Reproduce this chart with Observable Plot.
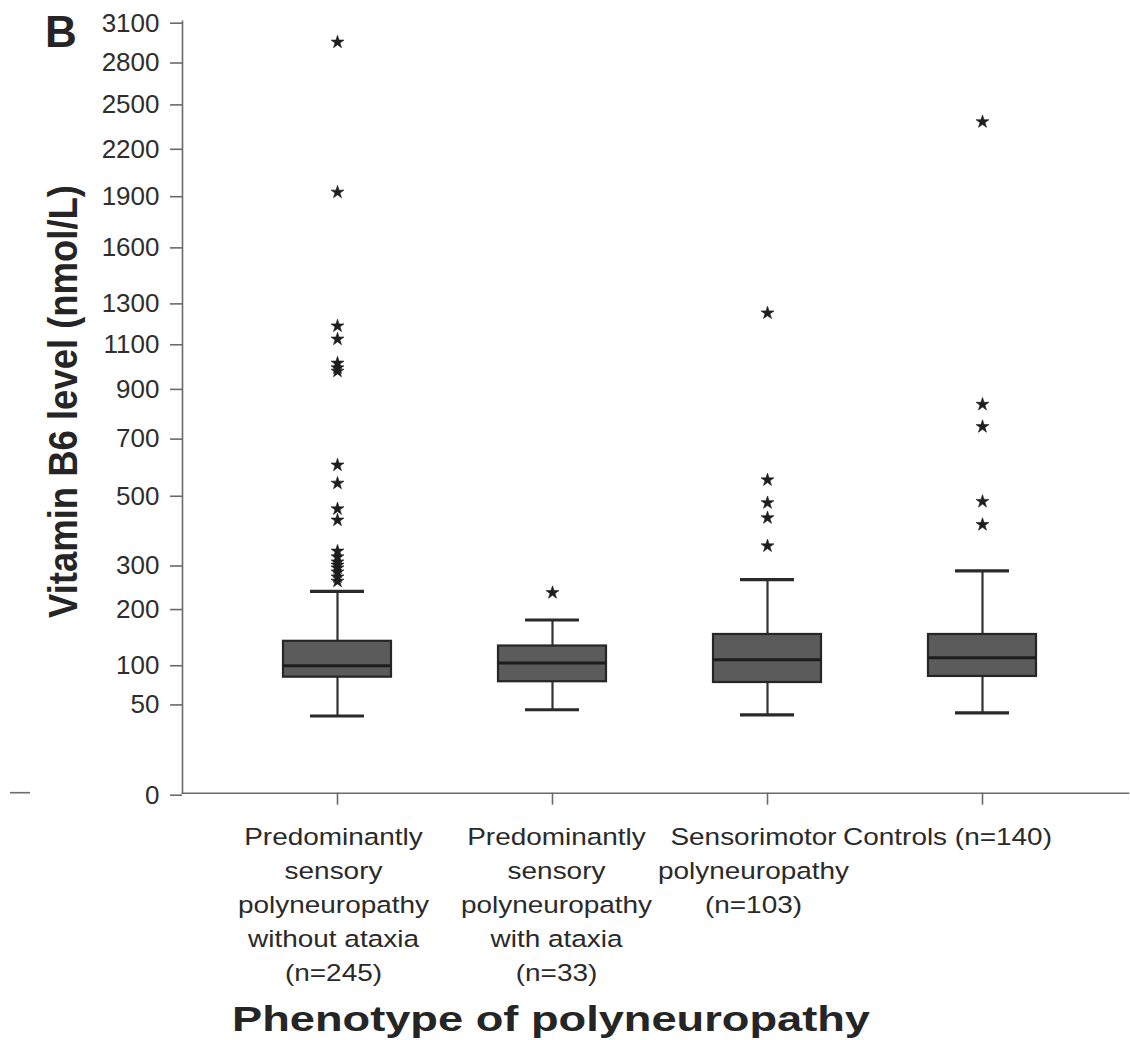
<!DOCTYPE html>
<html>
<head>
<meta charset="utf-8">
<script src="https://cdn.jsdelivr.net/npm/d3@7"></script>
<script src="https://cdn.jsdelivr.net/npm/@observablehq/plot@0.6"></script>
<style>
  html, body { margin: 0; padding: 0; background: #fff; }
  #chart svg { display: block; }
</style>
</head>
<body>
<div id="chart"></div>
<script>
// ---- data ----
const groupKeys = ["sens_noataxia", "sens_ataxia", "sensorimotor", "controls"];
const groupLabels = [
  "Predominantly\nsensory\npolyneuropathy\nwithout ataxia\n(n=245)",
  "Predominantly\nsensory\npolyneuropathy\nwith ataxia\n(n=33)",
  "Sensorimotor\npolyneuropathy\n(n=103)",
  "Controls (n=140)"
];
const whiskerLow  = [37, 43, 38, 40];
const quartile1   = [81, 75, 74, 82];
const medians     = [97, 101, 106, 109];
const quartile3   = [136, 128, 148, 148];
const whiskerHigh = [235, 175, 262, 283];
const outliersNoAtaxia = [2940, 1915, 1180, 1117, 1006, 985, 970, 598, 536, 454, 420, 333, 318, 305, 297, 290, 280, 268, 258];
const outliersAtaxia = [232];
const outliersSensorimotor = [1244, 547, 473, 427, 347];
const outliersControls = [2370, 829, 740, 477, 407];
const yTicks = [0, 50, 100, 200, 300, 500, 700, 900, 1100, 1300, 1600, 1900, 2200, 2500, 2800, 3100];
const panelLetter = "B";
const yTitle = "Vitamin B6 level (nmol/L)";
const xTitle = "Phenotype of polyneuropathy";

// ---- tables built from the arrays ----
const stats = groupKeys.map((key, i) => ({
  key, lo: whiskerLow[i], q1: quartile1[i], med: medians[i], q3: quartile3[i], hi: whiskerHigh[i]
}));
const outlierLists = [outliersNoAtaxia, outliersAtaxia, outliersSensorimotor, outliersControls];
const outliers = outlierLists.flatMap((list, i) => list.map(v => ({key: groupKeys[i], v})));
const labelOf = new Map(groupKeys.map((k, i) => [k, groupLabels[i]]));

const font = "'Liberation Sans', Arial, Helvetica, sans-serif";
const axisGray = "#6a6a6a";
const ink = "#252525";

const chart = Plot.plot({
  width: 1130,
  height: 1040,
  marginLeft: 182,
  marginRight: 2,
  marginTop: 20.7,
  marginBottom: 247.3,
  style: {fontFamily: font, background: "#fff", color: ink},
  x: {type: "band", domain: groupKeys, range: [229.2, 1089.2], paddingInner: 0.498, paddingOuter: 0.249, align: 0.5, label: null},
  y: {type: "pow", exponent: 0.52, domain: [0, 3100], label: null},
  marks: [
    Plot.frame({anchor: "left", stroke: axisGray, strokeWidth: 1.6}),
    Plot.frame({anchor: "bottom", stroke: axisGray, strokeWidth: 1.6}),
    Plot.axisY({ticks: yTicks, tickFormat: d => String(d), tickSize: 12, tickPadding: 11, fontSize: 26, dy: 2,
                stroke: axisGray, strokeWidth: 1.6, fill: "#2e2e2e", label: null}),
    Plot.axisX({tickFormat: k => labelOf.get(k), tickSize: 12, tickPadding: 16, fontSize: 23.3, lineHeight: 1.46,
                stroke: axisGray, strokeWidth: 1.6, fill: "#2a2a2a", label: null}),
    Plot.ruleX(stats, {x: "key", y1: "lo", y2: "q1", stroke: "#333", strokeWidth: 2.2}),
    Plot.ruleX(stats, {x: "key", y1: "q3", y2: "hi", stroke: "#333", strokeWidth: 2.2}),
    Plot.tickY(stats, {x: "key", y: "lo", insetLeft: 27, insetRight: 27, stroke: "#2a2a2a", strokeWidth: 3.2}),
    Plot.tickY(stats, {x: "key", y: "hi", insetLeft: 27, insetRight: 27, stroke: "#2a2a2a", strokeWidth: 3.2}),
    Plot.barY(stats, {x: "key", y1: "q1", y2: "q3", fill: "#5b5b5b", stroke: "#262626", strokeWidth: 2.2}),
    Plot.tickY(stats, {x: "key", y: "med", stroke: "#1c1c1c", strokeWidth: 3}),
    Plot.dot(outliers, {x: "key", y: "v", symbol: "star", r: 4.1, fill: "#1e1e1e", stroke: "#1e1e1e", strokeWidth: 0.6})
  ]
});

document.getElementById("chart").appendChild(chart);

// ---- text styling touches ----
const svg = d3.select(chart);
const xLabelShift = [-4, 4, -14, -35];
svg.selectAll('g[aria-label="x-axis tick label"] text').each(function (d, i) {
  const t = this.getAttribute("transform") || "";
  this.setAttribute("transform", `translate(${xLabelShift[i] || 0},0) ${t} scale(1.2,1)`);
});

svg.append("text")
  .attr("x", 45).attr("y", 46.7)
  .attr("text-anchor", "start")
  .attr("font-family", font).attr("font-weight", "bold").attr("font-size", 44)
  .attr("fill", ink)
  .text(panelLetter);

svg.append("text")
  .attr("transform", "translate(77,401.5) rotate(-90)")
  .attr("text-anchor", "middle")
  .attr("font-family", font).attr("font-weight", "bold").attr("font-size", 40)
  .attr("textLength", 433).attr("lengthAdjust", "spacingAndGlyphs")
  .attr("fill", ink)
  .text(yTitle);

svg.append("text")
  .attr("x", 551).attr("y", 1031)
  .attr("text-anchor", "middle")
  .attr("font-family", font).attr("font-weight", "bold").attr("font-size", 35)
  .attr("textLength", 638).attr("lengthAdjust", "spacingAndGlyphs")
  .attr("fill", ink)
  .text(xTitle);

svg.append("line")
  .attr("x1", 10).attr("x2", 30).attr("y1", 792.7).attr("y2", 792.7)
  .attr("stroke", axisGray).attr("stroke-width", 1.6);
</script>
</body>
</html>
